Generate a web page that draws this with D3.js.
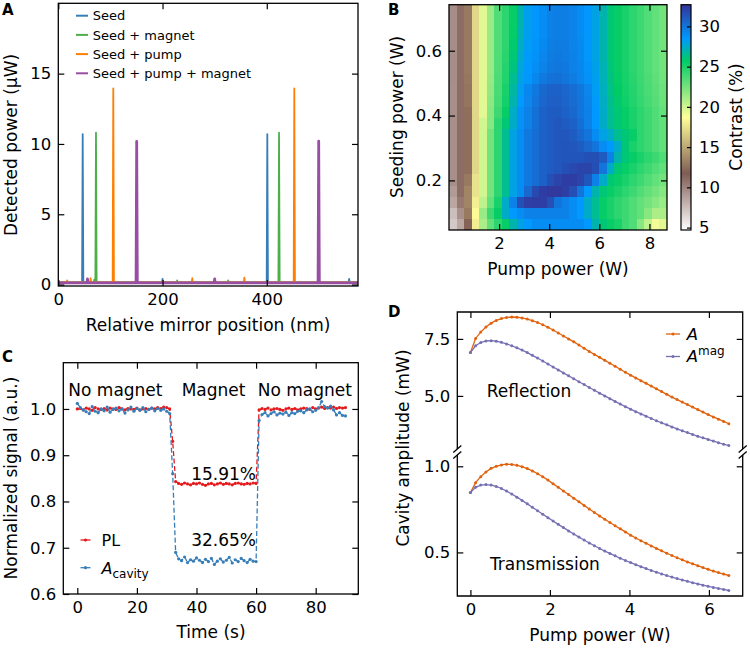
<!DOCTYPE html>
<html>
<head>
<meta charset="utf-8">
<script src="https://cdn.jsdelivr.net/npm/d3@7"></script>
<style>
  body { margin: 0; background: #fff; }
  svg text { font-family: "DejaVu Sans", sans-serif; fill: #000; }
</style>
</head>
<body>
<svg id="fig" width="750" height="648"></svg>
<script>
// ---------- panel A: detected power vs mirror position ----------
const seedTrace = [[0,0.15],[45.6,0.15],[46.8,10.7],[48,0.15],[199,0.15],[200,0.4],[201,0.15],[399.8,0.15],[401,10.7],[402.2,0.15],[557,0.15],[558,0.4],[559,0.15],[575,0.15]];
const magnetTrace = [[0,0.15],[68,0.15],[69,0.35],[70,0.15],[71.1,0.15],[72.3,10.8],[73.5,0.15],[227,0.15],[228,0.3],[229,0.15],[325,0.15],[326,0.3],[327,0.15],[422.3,0.15],[423.5,10.8],[424.7,0.15],[575,0.15]];
const pumpTrace = [[0,0.15],[16,0.15],[17,0.3],[18,0.15],[61,0.15],[62,0.45],[63,0.15],[104.3,0.15],[105.5,13.95],[106.7,0.15],[256,0.15],[257,0.45],[258,0.15],[356,0.15],[357,0.5],[358,0.15],[451.6,0.15],[452.8,13.95],[454,0.15],[575,0.15]];
const pumpMagnetTrace = [[0,0.12],[55,0.12],[56,0.4],[57,0.12],[149.2,0.12],[150.4,10.18],[151.6,0.12],[299,0.12],[300,0.4],[301,0.12],[498.4,0.12],[499.6,10.2],[500.8,0.12],[575,0.12]];
const seriesA = ["Seed", "Seed + magnet", "Seed + pump", "Seed + pump + magnet"];
const colorsA = ["#377eb8", "#4daf4a", "#ff7f00", "#984ea3"];
const xTicksA = [0, 200, 400];
const yTicksA = [0, 5, 10, 15];

// ---------- panel B: contrast map ----------
const pumpCols = [0.15, 0.45, 0.75, 1.05, 1.35, 1.65, 1.95, 2.25, 2.55, 2.85, 3.15, 3.45, 3.75, 4.05, 4.35, 4.65, 4.95, 5.25, 5.55, 5.85, 6.15, 6.45, 6.75, 7.05, 7.35, 7.65, 7.95, 8.25, 8.55];
const seedRows = [0.064, 0.099, 0.134, 0.169, 0.203, 0.238, 0.273, 0.308, 0.342, 0.377, 0.412, 0.447, 0.481, 0.516, 0.551, 0.586, 0.620, 0.655, 0.690, 0.725];
const contrast = [
  [7, 8.5, 12, 18, 21, 23, 24.5, 25.5, 27, 28, 28.5, 29, 29, 29, 29, 29, 29, 29, 28.5, 27, 26, 25.5, 25, 24, 23.5, 22, 20.5, 19, 19.5],
  [7.5, 9.5, 13, 18.5, 21.5, 24, 25.5, 27.5, 28.5, 29, 29.5, 29.5, 29.5, 29.5, 29.5, 29.5, 29, 28.5, 27.5, 26.5, 25.5, 25, 24.5, 24, 23.5, 23, 22, 21, 21],
  [8.5, 10.5, 13.5, 18, 20.5, 23, 25, 27.5, 29.5, 31.5, 32.2, 32.3, 32.2, 31.5, 30, 29.5, 29, 28.5, 27.5, 26.5, 25.5, 25, 24.5, 24, 23.5, 23, 22.5, 22, 21.5],
  [9, 11, 13.5, 17.5, 20, 22.5, 24.5, 26.5, 28, 29, 30.5, 31.8, 32.3, 32.5, 32.5, 32.2, 31.5, 30, 28.5, 27, 26, 25.5, 25, 24.5, 24, 23.5, 23, 22.5, 22],
  [9.5, 11, 13, 17.5, 20, 22.5, 24.5, 26.5, 28, 29, 29.8, 30.3, 30.8, 31.5, 32, 32.3, 32.3, 32, 31.2, 29.5, 27.5, 26, 25.5, 25, 24.5, 24, 23.5, 23, 22.5],
  [9.5, 11, 12.5, 17, 20, 22.5, 24.5, 26.5, 28, 29, 29.8, 30.3, 30.8, 31, 31.2, 31.5, 31.8, 32, 32, 31.5, 30, 27.5, 26, 25.5, 25, 24.5, 24, 23.5, 23],
  [9.5, 11, 12.5, 17, 20, 22.5, 24.5, 26.5, 28, 29, 29.8, 30.3, 30.8, 31, 31.2, 31.3, 31.3, 31.3, 31.5, 31.5, 31, 29.5, 27, 26, 25.5, 25, 24.5, 24, 23.5],
  [9.5, 11, 12.5, 17, 20, 22.5, 24.5, 26.5, 28, 29, 29.8, 30.3, 30.8, 31, 31.2, 31.3, 31.2, 31, 30.5, 30, 29, 28.5, 27.5, 26, 25, 24.5, 24, 23.5, 23],
  [9.5, 11, 12.5, 17, 20, 22.5, 24.5, 26.5, 28, 29, 29.8, 30.3, 30.8, 31, 31.2, 31.2, 31, 30.5, 30, 29, 28, 27.5, 26.5, 26, 25.5, 24.5, 24, 23.5, 23],
  [9.5, 11, 12.5, 17, 20, 22, 24.5, 26, 27.5, 28.8, 29.5, 30.2, 30.8, 31, 31.2, 31, 30.8, 30.2, 29.5, 28.5, 27.5, 26.5, 26, 25.5, 25, 24.5, 24, 23.5, 23],
  [9.5, 11, 12.5, 17, 19.5, 22, 24, 25.5, 27.5, 28.8, 29.5, 30.2, 30.8, 31, 31, 30.8, 30.5, 30, 29.5, 28.5, 27.5, 26.5, 26, 25.5, 25, 24.5, 24, 23.5, 23],
  [9.5, 11, 12.8, 17, 19.5, 21.8, 23.8, 25.2, 27, 28.5, 29.3, 30, 30.6, 30.9, 30.9, 30.7, 30.4, 30, 29.4, 28.4, 27.4, 26.4, 25.8, 25.3, 24.8, 24.3, 23.8, 23.3, 22.8],
  [9.5, 11, 12.8, 17, 19.5, 21.7, 23.7, 25, 26.8, 28.3, 29.2, 29.8, 30.5, 30.8, 30.8, 30.6, 30.3, 29.9, 29.3, 28.3, 27.3, 26.3, 25.7, 25.2, 24.7, 24.2, 23.7, 23.2, 22.7],
  [9.6, 11, 12.9, 17, 19.5, 21.6, 23.6, 24.8, 26.5, 28, 28.6, 29.2, 29.8, 30.1, 30.2, 30.0, 29.7, 29.3, 28.8, 28.2, 27.2, 26.2, 25.6, 25.1, 24.6, 24.1, 23.6, 23.1, 22.6],
  [9.6, 11, 13, 17, 19.5, 21.5, 23.5, 24.7, 26.2, 27.8, 28.5, 28.9, 29.4, 29.8, 29.9, 29.8, 29.5, 29.2, 28.7, 28.1, 27.1, 26.1, 25.5, 25, 24.5, 24, 23.5, 23, 22.5],
  [9.6, 11, 13, 17, 19.5, 21.5, 23.5, 24.6, 26, 27.6, 28.4, 28.8, 29.3, 29.7, 29.8, 29.7, 29.5, 29.1, 28.6, 28, 27, 26, 25.5, 25, 24.5, 24, 23.5, 23, 22.5],
  [9.6, 11, 13, 17, 19.5, 21.5, 23.5, 24.5, 25.8, 27.4, 28.3, 28.7, 29.1, 29.6, 29.7, 29.7, 29.4, 29.1, 28.6, 28, 27, 26, 25.5, 25, 24.5, 24, 23.5, 23, 22.5],
  [9.6, 11, 13, 17, 19.5, 21.5, 23.5, 24.5, 25.6, 27.2, 28.2, 28.6, 29, 29.5, 29.6, 29.6, 29.4, 29, 28.6, 28, 27, 26, 25.5, 25, 24.5, 24, 23.5, 23, 22.5],
  [9.6, 11, 13, 17, 19.5, 21.5, 23.5, 24.5, 25.5, 27, 28.2, 28.6, 29, 29.5, 29.6, 29.6, 29.4, 29, 28.6, 28, 27, 26, 25.5, 25, 24.5, 24, 23.5, 23, 22.5],
  [9.6, 11, 13, 17, 19.5, 21.5, 23.5, 24.5, 25.5, 27, 28.2, 28.6, 29, 29.5, 29.6, 29.6, 29.4, 29, 28.6, 28, 27, 26, 25.5, 25, 24.5, 24, 23.5, 23, 22.5]
];
const xTicksB = [2, 4, 6, 8];
const yTicksB = [0.2, 0.4, 0.6];
const cbTicks = [5, 10, 15, 20, 25, 30];
// terrain_r colour stops (contrast value -> colour)
const cmapValues = [4.7, 11.7, 18.7, 25.7, 28.5, 32.7];
const cmapColors = ["#ffffff", "#805c54", "#ffff99", "#00cc66", "#0099ff", "#333399"];

// ---------- panel C: time traces ----------
const timeC = [0,1,2,3,4,5,6,7,8,9,10,11,12,13,14,15,16,17,18,19,20,21,22,23,24,25,26,27,28,29,30,31,32,33,34,35,36,37,38,39,40,41,42,43,44,45,46,47,48,49,50,51,52,53,54,55,56,57,58,59,60,61,62,63,64,65,66,67,68,69,70,71,72,73,74,75,76,77,78,79,80,81,82,83,84,85,86,87,88,89,90];
const plSignal = [1.000, 1.001, 0.998, 1.002, 1.000, 0.997, 1.003, 1.000, 0.999, 1.001, 0.998, 1.002, 1.000, 0.999, 1.003, 1.000, 0.998, 1.001, 1.000, 0.999, 1.002, 0.998, 1.000, 1.001, 0.999, 1.002, 1.000, 1.003, 1.001, 1.004, 1.003, 1.000,
  0.930, 0.843,
  0.839, 0.837, 0.840, 0.838, 0.836, 0.839, 0.838, 0.840, 0.837, 0.835, 0.838, 0.839, 0.836, 0.838, 0.840, 0.837, 0.839, 0.838, 0.836, 0.839, 0.840, 0.838, 0.837, 0.839, 0.838, 0.840, 0.839,
  0.998,
  1.001, 0.999, 1.002, 0.998, 1.000, 1.001, 0.999, 0.997, 1.000, 1.002, 0.999, 1.001, 0.998, 1.000, 1.002, 1.001, 0.999, 1.003, 1.000, 1.002, 1.004, 1.001, 1.003, 1.002, 1.004, 1.001, 1.003, 1.002, 1.003];
const cavitySignal = [1.012, 1.003, 0.998, 0.994, 0.990, 1.005, 0.995, 0.992, 1.000, 0.996, 1.004, 0.993, 0.999, 1.002, 0.996, 1.000, 0.991, 0.998, 1.004, 0.995, 1.001, 0.997, 1.003, 0.994, 0.999, 1.002, 0.996, 1.001, 0.997, 1.000, 0.995, 0.990,
  0.860, 0.690,
  0.676, 0.672, 0.680, 0.668, 0.674, 0.671, 0.678, 0.673, 0.668, 0.675, 0.670, 0.677, 0.664, 0.671, 0.676, 0.669, 0.673, 0.679, 0.667, 0.674, 0.670, 0.677, 0.672, 0.668, 0.675, 0.671, 0.670,
  0.975,
  0.988, 0.992, 0.985, 0.990, 0.994, 0.987, 0.991, 0.989, 0.993, 0.986, 0.992, 0.990, 0.995, 0.996, 0.992, 0.998, 1.000, 0.994, 0.997, 1.003, 1.016, 1.005, 1.002, 1.006, 0.998, 0.987, 0.992, 0.986, 0.985];
const xTicksC = [0, 20, 40, 60, 80];
const yTicksC = [0.6, 0.7, 0.8, 0.9, 1.0];

// ---------- panel D: cavity amplitude vs pump ----------
const pumpD = [0, 0.13, 0.26, 0.39, 0.52, 0.65, 0.78, 0.91, 1.04, 1.17, 1.3, 1.43, 1.56, 1.69, 1.82, 1.95, 2.08, 2.21, 2.34, 2.47, 2.6, 2.73, 2.86, 2.99, 3.12, 3.25, 3.38, 3.51, 3.64, 3.77, 3.9, 4.03, 4.16, 4.29, 4.42, 4.55, 4.68, 4.81, 4.94, 5.07, 5.2, 5.33, 5.46, 5.59, 5.72, 5.85, 5.98, 6.11, 6.24, 6.37, 6.5];
const reflA = [6.9, 7.52, 7.8, 8.02, 8.19, 8.31, 8.39, 8.44, 8.46, 8.45, 8.42, 8.37, 8.30, 8.22, 8.12, 8.01, 7.89, 7.76, 7.63, 7.5, 7.37, 7.23, 7.09, 6.95, 6.82, 6.69, 6.56, 6.43, 6.3, 6.17, 6.04, 5.91, 5.79, 5.67, 5.55, 5.43, 5.31, 5.19, 5.07, 4.95, 4.84, 4.73, 4.62, 4.51, 4.4, 4.29, 4.18, 4.08, 3.98, 3.88, 3.78];
const reflAmag = [6.9, 7.2, 7.34, 7.41, 7.42, 7.40, 7.35, 7.28, 7.2, 7.11, 7.01, 6.9, 6.78, 6.66, 6.53, 6.40, 6.27, 6.14, 6.01, 5.88, 5.75, 5.62, 5.50, 5.37, 5.25, 5.12, 5.0, 4.88, 4.76, 4.64, 4.53, 4.42, 4.31, 4.21, 4.11, 4.01, 3.91, 3.82, 3.73, 3.64, 3.55, 3.47, 3.39, 3.31, 3.23, 3.16, 3.09, 3.02, 2.95, 2.88, 2.82];
const transA = [0.848, 0.905, 0.94, 0.967, 0.988, 1.0, 1.008, 1.012, 1.011, 1.006, 0.998, 0.987, 0.973, 0.957, 0.939, 0.92, 0.898, 0.878, 0.857, 0.836, 0.815, 0.794, 0.773, 0.752, 0.732, 0.712, 0.693, 0.674, 0.655, 0.637, 0.619, 0.6, 0.584, 0.568, 0.553, 0.538, 0.523, 0.509, 0.495, 0.482, 0.469, 0.457, 0.445, 0.434, 0.423, 0.412, 0.402, 0.392, 0.383, 0.374, 0.366];
const transAmag = [0.848, 0.878, 0.891, 0.894, 0.891, 0.883, 0.871, 0.856, 0.839, 0.821, 0.802, 0.782, 0.762, 0.742, 0.722, 0.702, 0.682, 0.663, 0.644, 0.625, 0.607, 0.589, 0.572, 0.555, 0.539, 0.523, 0.508, 0.494, 0.48, 0.466, 0.453, 0.441, 0.429, 0.417, 0.406, 0.395, 0.385, 0.375, 0.366, 0.357, 0.348, 0.34, 0.332, 0.324, 0.317, 0.31, 0.303, 0.297, 0.291, 0.285, 0.279];
const xTicksD = [0, 2, 4, 6];
const yTicksHi = [5.0, 7.5];
const yTicksLo = [0.5, 1.0];
const colA = "#e0620d", colAmag = "#7570b3";

// ---------- drawing ----------
const svg = d3.select("#fig");
const FS = "16.5px";   // tick labels
const LS = "17px";     // axis labels and notes

function styleAxis(sel) {
  sel.select(".domain").remove();
  sel.selectAll(".tick line").attr("stroke", "#000").attr("stroke-width", 1.2);
  sel.selectAll(".tick text").style("font-size", FS);
}

function frame(g, x, y, w, h, xt, yt, xf, yf) {
  g.append("g").attr("transform", `translate(0,${h})`)
    .call(d3.axisBottom(x).tickValues(xt).tickFormat(xf).tickSizeInner(-6).tickSizeOuter(0).tickPadding(7)).call(styleAxis);
  g.append("g")
    .call(d3.axisTop(x).tickValues(xt).tickFormat("").tickSizeInner(-6).tickSizeOuter(0)).call(styleAxis);
  g.append("g")
    .call(d3.axisLeft(y).tickValues(yt).tickFormat(yf).tickSizeInner(-6).tickSizeOuter(0).tickPadding(7)).call(styleAxis);
  g.append("g").attr("transform", `translate(${w},0)`)
    .call(d3.axisRight(y).tickValues(yt).tickFormat("").tickSizeInner(-6).tickSizeOuter(0)).call(styleAxis);
  g.append("rect").attr("width", w).attr("height", h)
    .attr("fill", "none").attr("stroke", "#000").attr("stroke-width", 1.3);
}

function label(x, y, s, rot, anchor) {
  return svg.append("text")
    .attr("transform", `translate(${x},${y})` + (rot ? " rotate(-90)" : ""))
    .attr("text-anchor", anchor || "middle").style("font-size", LS).text(s);
}

function letter(x, y, s) {
  svg.append("text").attr("x", x).attr("y", y).style("font-size", "15px")
    .style("font-weight", "bold").text(s);
}

// ===== A =====
{
  const ox = 58.3, oy = 3.3, w = 299.7, h = 282.7;
  const g = svg.append("g").attr("transform", `translate(${ox},${oy})`);
  const x = d3.scaleLinear().domain([0, 575]).range([0, w]);
  const y = d3.scaleLinear().domain([-0.1, 20]).range([h, 0]);
  g.append("clipPath").attr("id", "clipA").append("rect").attr("width", w).attr("height", h);
  const line = d3.line().x(d => x(d[0])).y(d => y(d[1]));
  const traces = [seedTrace, magnetTrace, pumpTrace, pumpMagnetTrace];
  traces.forEach((t, i) => {
    g.append("path").attr("d", line(t)).attr("clip-path", "url(#clipA)")
      .attr("fill", "none").attr("stroke", colorsA[i])
      .attr("stroke-width", i === 3 ? 2.8 : 1.8).attr("stroke-linejoin", "round");
  });
  frame(g, x, y, w, h, xTicksA, yTicksA, d3.format("d"), d3.format("d"));
  const lg = g.append("g").attr("transform", "translate(17.7,12.4)");
  seriesA.forEach((s, i) => {
    const r = lg.append("g").attr("transform", `translate(0,${i * 19.2})`);
    r.append("line").attr("x1", 0).attr("x2", 12).attr("stroke", colorsA[i]).attr("stroke-width", 2);
    r.append("text").attr("x", 16.7).attr("y", 4.6).style("font-size", "13px").text(s);
  });
  label(208, 331, "Relative mirror position (nm)");
  label(17, 145, "Detected power (μW)", true);
  letter(2, 15, "A");
}

// ===== B =====
{
  const ox = 449, oy = 4.7, w = 218, h = 225.3;
  const g = svg.append("g").attr("transform", `translate(${ox},${oy})`);
  const x = d3.scaleLinear().domain([0, 8.7]).range([0, w]);
  const y = d3.scaleLinear().domain([0.047, 0.742]).range([h, 0]);
  const color = d3.scaleLinear().domain(cmapValues).range(cmapColors).clamp(true);
  const dp = pumpCols[1] - pumpCols[0];
  const ds = seedRows[1] - seedRows[0];
  const cells = [];
  contrast.forEach((row, i) => row.forEach((v, j) => cells.push({ p: pumpCols[j], s: seedRows[i], v })));
  g.append("clipPath").attr("id", "clipB").append("rect").attr("width", w).attr("height", h);
  g.append("g").attr("clip-path", "url(#clipB)").selectAll("rect").data(cells).join("rect")
    .attr("x", d => x(d.p - dp / 2)).attr("width", x(dp) - x(0) + 0.6)
    .attr("y", d => y(d.s + ds / 2)).attr("height", y(0) - y(ds) + 0.6)
    .attr("fill", d => color(d.v)).attr("shape-rendering", "crispEdges");
  frame(g, x, y, w, h, xTicksB, yTicksB, d3.format("d"), d3.format(".1f"));

  // colorbar
  const cx = 681, cw = 10;
  const cb = svg.append("g").attr("transform", `translate(${cx},${oy})`);
  const cy = d3.scaleLinear().domain([4.7, 32.7]).range([h, 0]);
  const grad = svg.append("defs").append("linearGradient").attr("id", "terrain")
    .attr("x1", 0).attr("y1", 1).attr("x2", 0).attr("y2", 0);
  cmapValues.forEach((v, i) => grad.append("stop")
    .attr("offset", (v - 4.7) / 28).attr("stop-color", cmapColors[i]));
  cb.append("rect").attr("width", cw).attr("height", h).attr("fill", "url(#terrain)");
  cb.append("g").attr("transform", `translate(${cw},0)`)
    .call(d3.axisRight(cy).tickValues(cbTicks).tickSizeInner(-4).tickSizeOuter(0).tickPadding(8)).call(styleAxis);
  cb.append("rect").attr("width", cw).attr("height", h).attr("fill", "none")
    .attr("stroke", "#000").attr("stroke-width", 1.2);

  label(558, 275, "Pump power (W)");
  label(403, 117, "Seeding power (W)", true);
  label(742, 117, "Contrast (%)", true);
  letter(388, 15, "B");
}

// ===== C =====
{
  const ox = 63.3, oy = 362.7, w = 295, h = 231.3;
  const g = svg.append("g").attr("transform", `translate(${ox},${oy})`);
  const x = d3.scaleLinear().domain([-4.7, 94.3]).range([0, w]);
  const y = d3.scaleLinear().domain([0.6, 1.1]).range([h, 0]);
  const series = [
    { vals: plSignal, color: "#e41a1c" },
    { vals: cavitySignal, color: "#377eb8" }
  ];
  const line = d3.line().x((d, i) => x(timeC[i])).y(d => y(d));
  series.forEach(s => {
    g.append("path").attr("d", line(s.vals)).attr("fill", "none")
      .attr("stroke", s.color).attr("stroke-width", 1.3).attr("stroke-dasharray", "5,2.5");
    g.append("g").selectAll("circle").data(s.vals).join("circle")
      .attr("cx", (d, i) => x(timeC[i])).attr("cy", d => y(d)).attr("r", 1.6).attr("fill", s.color);
  });
  frame(g, x, y, w, h, xTicksC, yTicksC, d3.format("d"), d3.format(".1f"));

  g.append("text").attr("x", 68.3 - ox).attr("y", 396 - oy).style("font-size", LS).text("No magnet");
  g.append("text").attr("x", 181.7 - ox).attr("y", 396 - oy).style("font-size", LS).text("Magnet");
  g.append("text").attr("x", 257.7 - ox).attr("y", 396 - oy).style("font-size", LS).text("No magnet");
  g.append("text").attr("x", 256 - ox).attr("y", 480 - oy).attr("text-anchor", "end").style("font-size", LS).text("15.91%");
  g.append("text").attr("x", 256 - ox).attr("y", 546.5 - oy).attr("text-anchor", "end").style("font-size", LS).text("32.65%");

  // legend
  const lg = g.append("g").attr("transform", `translate(${80.5 - ox},${540 - oy})`);
  series.forEach((s, i) => {
    const r = lg.append("g").attr("transform", `translate(0,${i * 27.7})`);
    r.append("line").attr("x1", 0).attr("x2", 10).attr("stroke", s.color).attr("stroke-width", 1.3);
    r.append("circle").attr("cx", 5).attr("r", 1.6).attr("fill", s.color);
  });
  lg.append("text").attr("x", 21).attr("y", 5.8).style("font-size", "16px").text("PL");
  const t2 = lg.append("text").attr("x", 21).attr("y", 27.7 + 5.8).style("font-size", "16px");
  t2.append("tspan").style("font-style", "italic").text("A");
  t2.append("tspan").attr("dy", 4).style("font-size", "12px").text("cavity");

  label(211, 638, "Time (s)");
  label(17, 478, "Normalized signal (a.u.)", true);
  letter(2, 362, "C");
}

// ===== D =====
{
  const ox = 457.3, oy = 312, w = 285.4, h = 284, brk = 140;
  const g = svg.append("g").attr("transform", `translate(${ox},${oy})`);
  const x = d3.scaleLinear().domain([-0.33, 6.85]).range([0, w]);
  const yHi = d3.scaleLinear().domain([2.54, 8.68]).range([brk, 0]);
  const yLo = d3.scaleLinear().domain([0.247, 1.083]).range([h, brk]);

  const curves = [
    { y: yHi, vals: reflA, color: colA },
    { y: yHi, vals: reflAmag, color: colAmag },
    { y: yLo, vals: transA, color: colA },
    { y: yLo, vals: transAmag, color: colAmag }
  ];
  curves.forEach(c => {
    const line = d3.line().x((d, i) => x(pumpD[i])).y(d => c.y(d));
    g.append("path").attr("d", line(c.vals)).attr("fill", "none")
      .attr("stroke", c.color).attr("stroke-width", 1.3);
    g.append("g").selectAll("circle").data(c.vals).join("circle")
      .attr("cx", (d, i) => x(pumpD[i])).attr("cy", d => c.y(d)).attr("r", 1.5).attr("fill", c.color);
  });

  // axes with ticks inward
  g.append("g").attr("transform", `translate(0,${h})`)
    .call(d3.axisBottom(x).tickValues(xTicksD).tickFormat(d3.format("d")).tickSizeInner(-6).tickSizeOuter(0).tickPadding(7)).call(styleAxis);
  g.append("g").call(d3.axisTop(x).tickValues(xTicksD).tickFormat("").tickSizeInner(-6).tickSizeOuter(0)).call(styleAxis);
  [[yHi, yTicksHi], [yLo, yTicksLo]].forEach(([ys, tv]) => {
    g.append("g").call(d3.axisLeft(ys).tickValues(tv).tickFormat(d3.format(".1f")).tickSizeInner(-6).tickSizeOuter(0).tickPadding(7)).call(styleAxis);
    g.append("g").attr("transform", `translate(${w},0)`)
      .call(d3.axisRight(ys).tickValues(tv).tickFormat("").tickSizeInner(-6).tickSizeOuter(0)).call(styleAxis);
  });

  // broken frame
  const gap0 = brk - 3, gap1 = brk + 3;
  const fr = g.append("g").attr("stroke", "#000").attr("stroke-width", 1.3).attr("fill", "none");
  fr.append("path").attr("d", `M0,${gap0}V0H${w}V${gap0}M0,${gap1}V${h}H${w}V${gap1}`);
  [0, w].forEach(px => {
    [gap0, gap1].forEach(py => {
      fr.append("line").attr("x1", px - 4).attr("y1", py + 3.5).attr("x2", px + 4).attr("y2", py - 3.5);
    });
  });

  g.append("text").attr("x", 486.7 - ox).attr("y", 397 - oy).style("font-size", LS).text("Reflection");
  g.append("text").attr("x", 490 - ox).attr("y", 570 - oy).style("font-size", LS).text("Transmission");

  // legend
  const lg = g.append("g").attr("transform", `translate(${666 - ox},${334 - oy})`);
  [colA, colAmag].forEach((c, i) => {
    const r = lg.append("g").attr("transform", `translate(0,${i * 22.5})`);
    r.append("line").attr("x1", 0).attr("x2", 14).attr("stroke", c).attr("stroke-width", 1.3);
    r.append("circle").attr("cx", 7).attr("r", 1.5).attr("fill", c);
  });
  lg.append("text").attr("x", 20.7).attr("y", 5.8).style("font-size", "16.5px").style("font-style", "italic").text("A");
  const t2 = lg.append("text").attr("x", 20.7).attr("y", 22.5 + 5.8).style("font-size", "16.5px");
  t2.append("tspan").style("font-style", "italic").text("A");
  t2.append("tspan").attr("dy", -7).style("font-size", "12px").text("mag");

  label(600, 641, "Pump power (W)");
  label(408.5, 448, "Cavity amplitude (mW)", true);
  letter(388, 317, "D");
}
</script>
</body>
</html>
